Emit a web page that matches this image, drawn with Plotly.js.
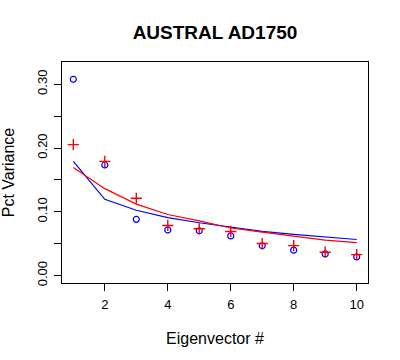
<!DOCTYPE html>
<html>
<head>
<meta charset="utf-8">
<script src="https://cdn.plot.ly/plotly-3.0.1.min.js"></script>
<style>html,body{margin:0;padding:0;background:#fff;}#chart{width:400px;height:360px;}</style>
</head>
<body>
<div id="chart"></div>
<script>
var eigenvector = [1, 2, 3, 4, 5, 6, 7, 8, 9, 10];
var observedBlue = [0.3077, 0.1734, 0.0882, 0.0716, 0.0702, 0.0622, 0.0467, 0.0399, 0.0340, 0.0293];
var observedRed = [0.2053, 0.1791, 0.1212, 0.0786, 0.0734, 0.0692, 0.0502, 0.0470, 0.0367, 0.0329];
var curveBlue = [0.1790, 0.1196, 0.1024, 0.0910, 0.0828, 0.0758, 0.0694, 0.0647, 0.0608, 0.0566];
var curveRed = [0.1695, 0.1363, 0.1120, 0.0958, 0.0859, 0.0746, 0.0681, 0.0624, 0.0556, 0.0518];
var xTickVals = [2, 4, 6, 8, 10];
var yTickVals = [0, 0.05, 0.10, 0.15, 0.20, 0.25, 0.30];
var yTickText = ['0.00', '', '0.10', '', '0.20', '', '0.30'];

var font = 'Liberation Sans, Arial, sans-serif';
var traces = [
  {x: eigenvector, y: curveBlue, mode: 'lines', line: {color: '#0000FF', width: 1.2}, showlegend: false, hoverinfo: 'skip'},
  {x: eigenvector, y: curveRed, mode: 'lines', line: {color: '#FF0000', width: 1.2}, showlegend: false, hoverinfo: 'skip'},
  {x: eigenvector, y: observedBlue, mode: 'markers', marker: {symbol: 'circle-open', size: 6, color: '#0000FF', line: {width: 1.2, color: '#0000FF'}}, showlegend: false},
  {x: eigenvector, y: observedRed, mode: 'markers', marker: {symbol: 'cross-thin-open', size: 8, color: '#FF0000', line: {width: 1.4, color: '#FF0000'}}, showlegend: false}
];

var layout = {
  width: 400, height: 360,
  margin: {l: 62, r: 32, t: 62, b: 77, pad: 0},
  paper_bgcolor: '#FFFFFF', plot_bgcolor: '#FFFFFF',
  font: {family: font, color: '#000000'},
  title: {text: '<b>AUSTRAL AD1750</b>', font: {family: font, size: 19, color: '#000000'}, x: 0.5, xref: 'paper', xanchor: 'center', y: 1 - 32/360, yref: 'container', yanchor: 'middle'},
  xaxis: {
    range: [0.64, 10.36], tickvals: xTickVals, ticktext: xTickVals.map(String),
    ticks: 'outside', ticklen: 7, tickwidth: 1, tickcolor: '#000', ticklabelstandoff: 2,
    showline: true, mirror: true, linecolor: '#000', linewidth: 1,
    showgrid: false, zeroline: false,
    tickfont: {family: font, size: 13, color: '#000'},
    title: {text: 'Eigenvector #', font: {family: font, size: 16, color: '#000'}, standoff: 22},
    automargin: false
  },
  yaxis: {
    range: [-0.0116, 0.3348], tickvals: yTickVals, ticktext: yTickText, tickangle: -90,
    ticks: 'outside', ticklen: 7, tickwidth: 1, tickcolor: '#000', ticklabelstandoff: 2,
    showline: true, mirror: true, linecolor: '#000', linewidth: 1,
    showgrid: false, zeroline: false,
    tickfont: {family: font, size: 13, color: '#000'},
    title: {text: 'Pct Variance', font: {family: font, size: 16, color: '#000'}, standoff: 16},
    automargin: false
  }
};

Plotly.newPlot('chart', traces, layout, {staticPlot: true, displayModeBar: false});
</script>
</body>
</html>
